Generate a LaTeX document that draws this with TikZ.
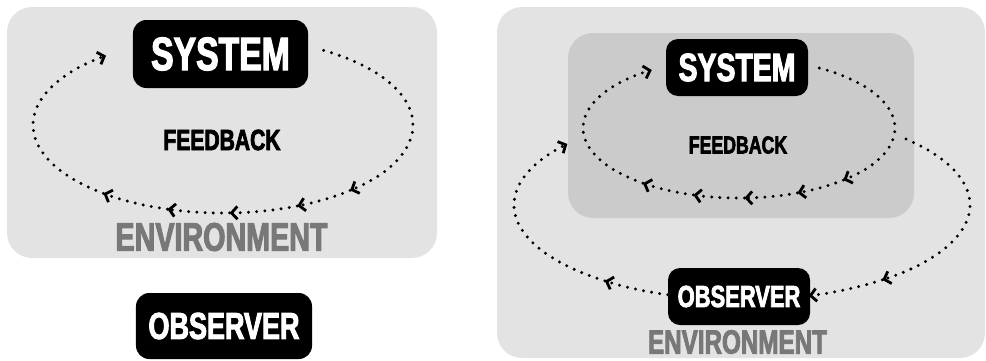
\documentclass[tikz,border=0pt]{standalone}
\usepackage{fontspec}
\newfontfamily\blackfont{Liberation Sans}[FakeStretch=0.72,FakeBold=2.5]
\newcommand\lbl[1]{\blackfont\bfseries\fontsize{#1}{#1}\selectfont}
\usetikzlibrary{arrows.meta,calc}
\definecolor{envgray}{HTML}{E3E3E3}
\definecolor{innergray}{HTML}{CBCBCB}
\definecolor{envtext}{HTML}{787878}
\tikzset{
  panel/.style={fill=envgray, rounded corners=0.75cm},
  innerpanel/.style={fill=innergray, rounded corners=0.75cm},
  blackbox/.style={fill=black, text=white, rounded corners=0.4cm, inner sep=0pt},
  feedbackline/.style={line width=2.8pt, line cap=round, dash pattern=on 0pt off 7pt,
    -{Straight Barb[length=5pt,width=11pt,line width=2.4pt]}},
}
\begin{document}
\begin{tikzpicture}[x=0.03cm,y=-0.03cm]
  \useasboundingbox (0,0) rectangle (986,360);
  % panels
  \fill[panel] (7,7) rectangle (437,258);
  \fill[panel] (497,7) rectangle (985,358);
  \fill[innerpanel] (568,33) rectangle (914,218);
  % loop centres
  \coordinate (cL) at (223,125);
  \coordinate (cRi) at (739,128);
  \coordinate (cRo) at (742,205);
  % left feedback loop
  \foreach \a/\b in {-58/48,48/67,67/88,88/107,107/129,129/232}
    \draw[feedbackline] ($(cL)+(\a:190 and 88)$) arc[start angle=\a,end angle=\b,x radius=190,y radius=88];
  % inner feedback loop
  \foreach \a/\b in {-59/48,48/68,68/88,88/107,107/128,128/236}
    \draw[feedbackline] ($(cRi)+(\a:156 and 70)$) arc[start angle=\a,end angle=\b,x radius=156,y radius=70];
  % observer loop
  \foreach \a/\b in {-44/52,52/73,109/127,127/220}
    \draw[feedbackline] ($(cRo)+(\a:228 and 95)$) arc[start angle=\a,end angle=\b,x radius=228,y radius=95];
  % left panel
  \node[blackbox, minimum width=5.25cm, minimum height=2.04cm, font=\lbl{40}] (sysL) at (220.5,54) {SYSTEM};
  \node[font=\lbl{25}] (fbL) at (222,140) {FEEDBACK};
  \node[text=envtext, font=\lbl{34}] (envL) at (221.5,237) {ENVIRONMENT};
  \node[blackbox, minimum width=5.28cm, minimum height=1.98cm, font=\lbl{32}] (obsL) at (224,326) {OBSERVER};
  % right panel
  \node[blackbox, minimum width=4.26cm, minimum height=1.71cm, rounded corners=0.36cm, font=\lbl{33.7}] (sysR) at (737,67.5) {SYSTEM};
  \node[font=\lbl{21}] (fbR) at (738,145) {FEEDBACK};
  \node[blackbox, minimum width=4.26cm, minimum height=1.71cm, rounded corners=0.36cm, font=\lbl{26}] (obsR) at (739,296.5) {OBSERVER};
  \node[text=envtext, font=\lbl{28.7}] (envR) at (737.5,342) {ENVIRONMENT};
\end{tikzpicture}
\end{document}
